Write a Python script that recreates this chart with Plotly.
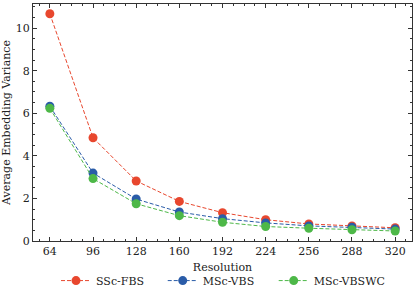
import plotly.graph_objects as go

resolution = [64, 96, 128, 160, 192, 224, 256, 288, 320]
ssc_fbs = [10.67, 4.85, 2.82, 1.86, 1.33, 1.00, 0.80, 0.71, 0.62]
msc_vbs = [6.33, 3.19, 1.97, 1.36, 1.05, 0.85, 0.71, 0.65, 0.56]
msc_vbswc = [6.23, 2.93, 1.75, 1.19, 0.88, 0.68, 0.60, 0.53, 0.47]

series = [
    ("SSc-FBS", ssc_fbs, "#E8472E", "legend", 0.0607),
    ("MSc-VBS", msc_vbs, "#2A5CA8", "legend2", 0.3423),
    ("MSc-VBSWC", msc_vbswc, "#4DB848", "legend3", 0.6351),
]

FONT = "DejaVu Serif"
TXT = "#222222"
fig = go.Figure()
legends = {}
for name, vals, col, lg, lx in series:
    fig.add_trace(go.Scatter(
        x=resolution, y=vals, name=name, mode="lines+markers",
        line=dict(color=col, width=1, dash="4px,2px"),
        marker=dict(color=col, size=9),
        legend=lg,
    ))
    legends[lg] = dict(orientation="h", x=lx, xanchor="left", y=-0.167, yanchor="middle",
                       font=dict(family=FONT, size=11, color=TXT),
                       bgcolor="rgba(0,0,0,0)", borderwidth=0)

axis_common = dict(
    showline=True, linecolor="#333333", linewidth=1, mirror="allticks",
    ticks="inside", ticklen=4, tickwidth=1, tickcolor="#333333",
    showgrid=False, zeroline=False, automargin=False,
    tickfont=dict(family=FONT, size=11, color=TXT),
)
fig.update_xaxes(
    **axis_common, range=[51.5, 332.5], tickvals=resolution,
    minor=dict(ticks="inside", ticklen=2, dtick=8, tick0=0, tickcolor="#333333", showgrid=False),
    title=dict(text="Resolution", font=dict(family=FONT, size=11, color=TXT), standoff=6),
)
fig.update_yaxes(
    **axis_common, range=[0, 11.13], tickvals=[0, 2, 4, 6, 8, 10],
    minor=dict(ticks="inside", ticklen=2, dtick=0.5, tick0=0, tickcolor="#333333", showgrid=False),
    title=dict(text="Average Embedding Variance", font=dict(family=FONT, size=11, color=TXT), standoff=4),
)
fig.update_layout(
    width=416, height=299,
    margin=dict(l=33, r=4, t=4, b=55),
    paper_bgcolor="white", plot_bgcolor="white",
    font=dict(family=FONT, size=11, color=TXT),
    showlegend=True,
    **legends,
)
fig.write_html("out.html", config={"displayModeBar": False},
               post_script="document.body.style.margin='0';")
